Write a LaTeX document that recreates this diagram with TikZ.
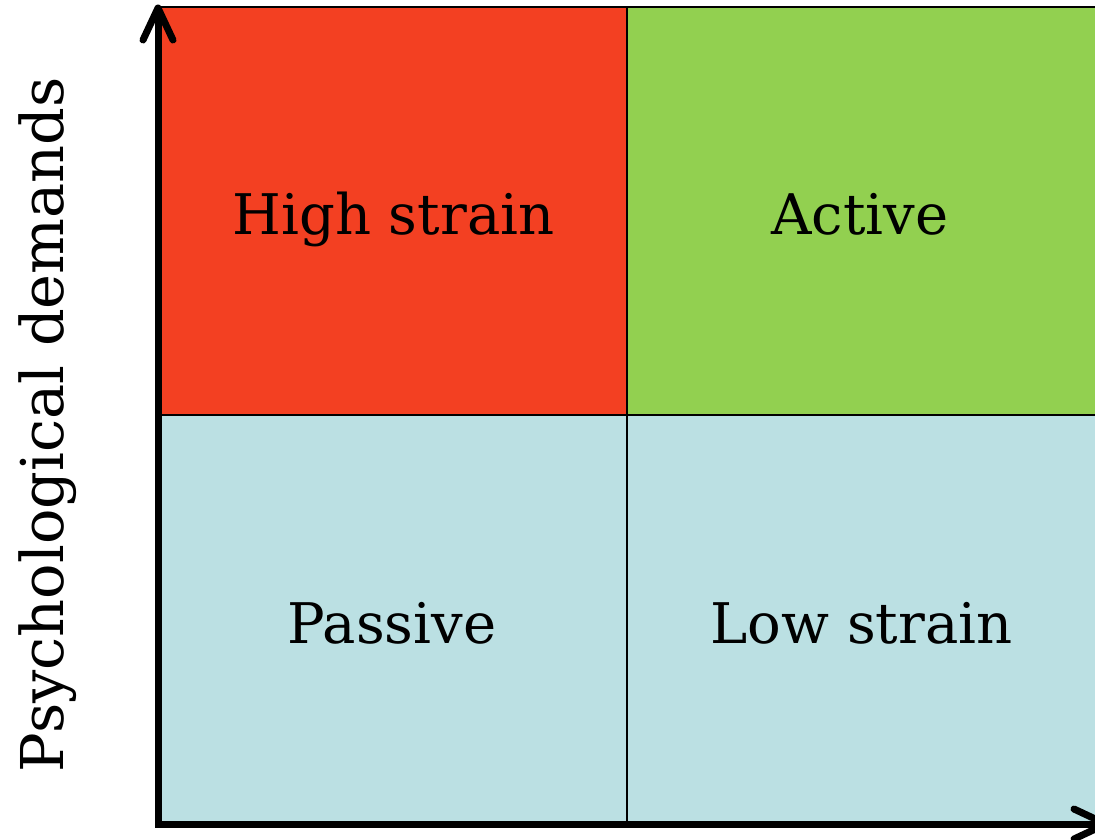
\documentclass[tikz,border=0pt]{standalone}
\usepackage{fontspec}
\setmainfont{DejaVu Serif}
\definecolor{qred}{RGB}{243,64,34}
\definecolor{qgreen}{RGB}{146,208,80}
\definecolor{qblue}{RGB}{187,224,227}
\begin{document}
\begin{tikzpicture}[x=1pt,y=-1pt,
  quad/.style={draw=black,line width=1.5pt,minimum width=469pt,minimum height=408pt,inner sep=0pt,outer sep=0pt,anchor=north west},
  qlabel/.style={anchor=base,inner sep=0pt,font=\fontsize{56}{60}\selectfont},
  axis/.style={line width=7pt,line cap=butt,line join=miter},
  barb/.style={line width=7pt,line cap=round,line join=round}]
\useasboundingbox (0,0) rectangle (1095,839);
\clip (0,0) rectangle (1095,839);
\node[quad,fill=qred] (hs) at (158,7) {};
\node[quad,fill=qgreen] (ac) at (627,7) {};
\node[quad,fill=qblue] (pa) at (158,415) {};
\node[quad,fill=qblue] (ls) at (627,415) {};
\node[qlabel] (hst) at (393.5,234) {High strain};
\node[qlabel] (act) at (860,234) {Active};
\node[qlabel] (pat) at (392,643) {Passive};
\node[qlabel] (lst) at (861.5,643) {Low strain};
\coordinate (o) at (158,824);
\coordinate (ytip) at (158,8);
\coordinate (xtip) at (1106,824);
\draw[axis] (ytip) -- (o) -- (xtip);
\draw[barb] ([shift={(-15,32)}]ytip) -- (ytip) -- ([shift={(15,32)}]ytip);
\draw[barb] ([shift={(-32,-15)}]xtip) -- (xtip) -- ([shift={(-32,15)}]xtip);
\node[rotate=90,anchor=base,inner sep=0pt,font=\fontsize{59}{62}\selectfont] (yl) at (63,424.5) {Psychological demands};
\end{tikzpicture}
\end{document}
